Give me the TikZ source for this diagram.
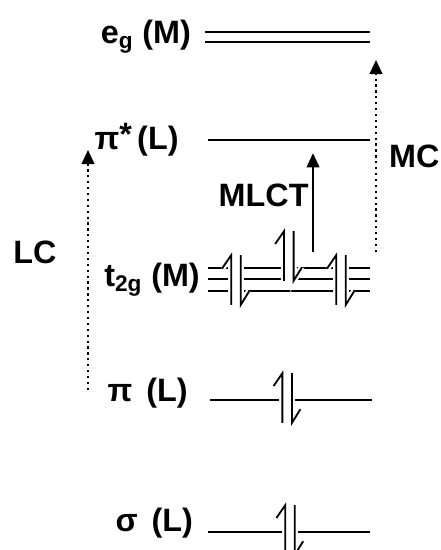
\documentclass[tikz,border=0pt]{standalone}
\usepackage{fontspec}
\setmainfont{Liberation Sans}
\usetikzlibrary{arrows.meta}

\tikzset{
    level/.style={line width=1.4pt},
    lbl/.style={font=\fontsize{23}{26}\selectfont\bfseries, inner sep=0pt},
    trans/.style={line width=1.3pt, -{Triangle[width=9pt,length=10pt]}},
    dots/.style={line width=1.7pt, dash pattern=on 1.6pt off 2.6pt},
}
% spin pair (up / down half arrows) centred at #1,#2
\newcommand{\spinpair}[2]{%
    \begin{scope}[shift={(#1,#2)}, line width=1.3pt]
        \draw[white, line width=4.5pt]
            (-0.12,-0.62) -- (-0.12,0.62) -- (-0.34,0.3)
            (0.12,0.62) -- (0.12,-0.62) -- (0.33,-0.28);
        \fill[white] (-0.12,-0.62) rectangle (0.12,0.62);
        \draw (-0.12,-0.62) -- (-0.12,0.62) -- (-0.34,0.3);
        \draw (0.12,0.62) -- (0.12,-0.62) -- (0.33,-0.28);
    \end{scope}}

\begin{document}
\begin{tikzpicture}
    \useasboundingbox (0,0) rectangle (11,13.75);

    % Levels
    \draw[level] (5.125,12.95) -- (9.25,12.95);
    \draw[level] (5.125,12.70) -- (9.25,12.70);
    \draw[level] (5.2,10.25) -- (9.25,10.25);
    \foreach \y in {7.05,6.775,6.475}
        \draw[level, line width=1.2pt] (5.2,\y) -- (9.25,\y);
    \draw[level] (5.25,3.75) -- (9.3,3.75);
    \draw[level] (5.2,0.45) -- (9.25,0.45);

    % Electrons
    \spinpair{5.9}{6.75}
    \spinpair{7.22}{7.35}
    \spinpair{8.525}{6.75}
    \spinpair{7.18}{3.8}
    \spinpair{7.25}{0.5}

    % Labels
    \node[lbl, anchor=east] (eg) at (4.78,12.83) {e\textsubscript{g} (M)};
    \node[lbl, anchor=east] (pistar) at (4.47,10.25) {π\raisebox{3pt}{*}\,(L)};
    \node[lbl, anchor=east] (t2g) at (5.0,6.75) {t\textsubscript{2g} (M)};
    \node[lbl, anchor=east] (pi) at (4.7,3.93) {π\hspace{0.35cm}(L)};
    \node[lbl, anchor=east] (sigma) at (4.83,0.68) {σ\hspace{0.35cm}(L)};
    \node[lbl] (lc) at (0.875,7.43) {LC};
    \node[lbl, anchor=west] (mc) at (9.72,9.83) {MC};
    \node[lbl, anchor=east] (mlct) at (7.72,8.875) {MLCT};

    % Transitions
    \coordinate (lcA) at (2.2,4.0);
    \coordinate (lcB) at (2.2,10.0);
    \coordinate (mcA) at (9.4,7.45);
    \coordinate (mcB) at (9.4,12.25);
    \coordinate (mlA) at (7.825,7.45);
    \coordinate (mlB) at (7.825,9.92);
    \draw[trans, dots] (lcA) -- (lcB);
    \draw[trans, dots] (mcA) -- (mcB);
    \draw[trans] (mlA) -- (mlB);
\end{tikzpicture}
\end{document}
